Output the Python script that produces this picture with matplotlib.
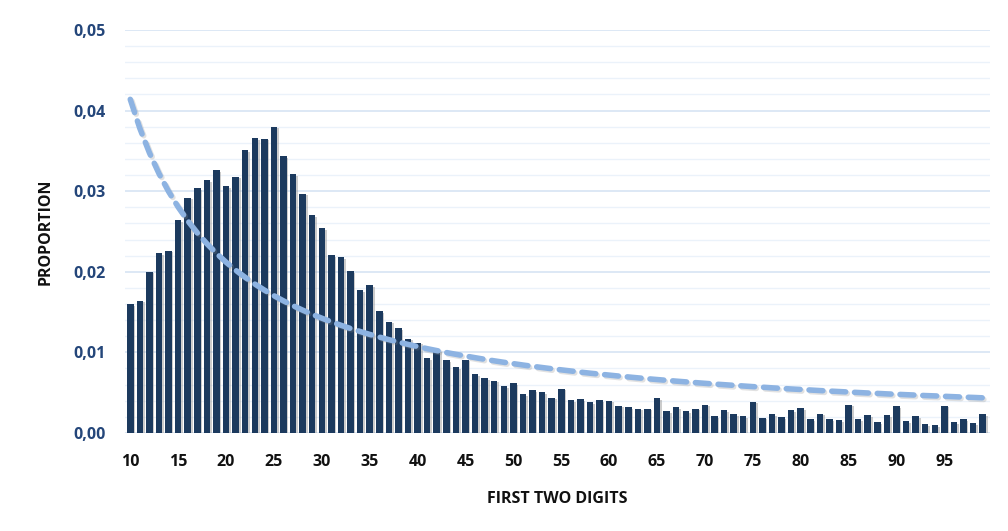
import matplotlib
matplotlib.use("Agg")
import matplotlib.pyplot as plt
import matplotlib.patheffects as pe
from matplotlib.ticker import MultipleLocator, FuncFormatter

# First-two-digit values and observed proportions
digits = list(range(10, 100))
observed = [
    0.0160, 0.0164, 0.0200, 0.0223, 0.0226, 0.0264, 0.0292, 0.0304, 0.0314, 0.0326,
    0.0306, 0.0318, 0.0351, 0.0366, 0.0365, 0.0380, 0.0343, 0.0321, 0.0297, 0.0270,
    0.0254, 0.0221, 0.0218, 0.0201, 0.0177, 0.0183, 0.0151, 0.0138, 0.0130, 0.0117,
    0.0112, 0.0093, 0.0103, 0.0090, 0.0082, 0.0091, 0.0073, 0.0068, 0.0065, 0.0058,
    0.0062, 0.0048, 0.0053, 0.0051, 0.0044, 0.0055, 0.0041, 0.0042, 0.0038, 0.0041,
    0.0040, 0.0034, 0.0032, 0.0030, 0.0030, 0.0043, 0.0027, 0.0032, 0.0027, 0.0030,
    0.0035, 0.0021, 0.0028, 0.0023, 0.0021, 0.0039, 0.0019, 0.0023, 0.0020, 0.0028,
    0.0031, 0.0017, 0.0024, 0.0017, 0.0016, 0.0035, 0.0017, 0.0022, 0.0013, 0.0022,
    0.0033, 0.0015, 0.0021, 0.0011, 0.0010, 0.0034, 0.0013, 0.0017, 0.0012, 0.0023,
]
# Expected proportions (Benford's law, first two digits)
expected = [
    0.04139, 0.03779, 0.03476, 0.03218, 0.02996, 0.02803, 0.02633, 0.02482, 0.02348, 0.02228,
    0.02119, 0.02020, 0.01931, 0.01848, 0.01773, 0.01703, 0.01639, 0.01579, 0.01524, 0.01472,
    0.01424, 0.01379, 0.01336, 0.01296, 0.01259, 0.01223, 0.01190, 0.01158, 0.01128, 0.01099,
    0.01072, 0.01046, 0.01022, 0.00998, 0.00976, 0.00955, 0.00934, 0.00914, 0.00895, 0.00877,
    0.00860, 0.00843, 0.00827, 0.00812, 0.00797, 0.00783, 0.00769, 0.00755, 0.00742, 0.00730,
    0.00718, 0.00706, 0.00695, 0.00684, 0.00673, 0.00663, 0.00653, 0.00643, 0.00634, 0.00625,
    0.00616, 0.00607, 0.00599, 0.00591, 0.00583, 0.00575, 0.00568, 0.00560, 0.00553, 0.00546,
    0.00540, 0.00533, 0.00526, 0.00520, 0.00514, 0.00508, 0.00502, 0.00496, 0.00491, 0.00485,
    0.00480, 0.00475, 0.00470, 0.00464, 0.00460, 0.00455, 0.00450, 0.00445, 0.00441, 0.00436,
]
x_ticks = list(range(10, 100, 5))
y_ticks = [0.00, 0.01, 0.02, 0.03, 0.04, 0.05]

FONT = ["Open Sans", "DejaVu Sans"]
BAR_COLOR = "#1c3a5e"
LINE_COLOR = "#8db3e2"
YTICK_COLOR = "#24467a"

fig = plt.figure(figsize=(10.08, 5.31), dpi=100)
ax = fig.add_axes([0.124, 0.1846, 0.858, 0.759])

shadow = [pe.SimplePatchShadow(offset=(1.2, -1.2), shadow_rgbFace="#9a9a9a", alpha=0.5),
          pe.Normal()]
bars = ax.bar(digits, observed, width=0.68, color=BAR_COLOR, zorder=3)
for b in bars:
    b.set_path_effects(shadow)

ax.plot(digits, expected, color=LINE_COLOR, lw=4.0, dashes=(2.5, 1.6),
        dash_capstyle="round", zorder=4,
        path_effects=[pe.SimpleLineShadow(offset=(1.2, -1.2), shadow_color="#8a8a8a", alpha=0.25),
                      pe.Normal()])

ax.set_xlim(9.45, 99.75)
ax.set_ylim(0, 0.05)
ax.set_yticks(y_ticks)
ax.yaxis.set_minor_locator(MultipleLocator(0.002))
ax.yaxis.set_major_formatter(FuncFormatter(lambda v, _: f"{v:.2f}".replace(".", ",")))
ax.grid(axis="y", which="major", color="#d3e2f3", lw=1.1, zorder=0)
ax.grid(axis="y", which="minor", color="#ebf2fa", lw=1.0, zorder=0)
ax.set_xticks(x_ticks)

for s in ax.spines.values():
    s.set_visible(False)
ax.tick_params(axis="both", which="both", length=0)
ax.tick_params(axis="x", pad=15)
ax.tick_params(axis="y", pad=14)

for lbl in ax.get_xticklabels():
    lbl.set_fontfamily(FONT)
    lbl.set_fontweight("bold")
    lbl.set_fontsize(11.5)
    lbl.set_color("#111111")
for lbl in ax.get_yticklabels():
    lbl.set_fontfamily(FONT)
    lbl.set_fontweight("bold")
    lbl.set_fontsize(11.5)
    lbl.set_color(YTICK_COLOR)

ax.set_xlabel("FIRST TWO DIGITS", family=FONT, fontweight="bold", fontsize=11.5,
              color="#111111", labelpad=15)
ax.set_ylabel("PROPORTION", family=FONT, fontweight="bold", fontsize=11.5,
              color="#111111", labelpad=14)

fig.savefig("out.png", dpi=100, facecolor="white")
